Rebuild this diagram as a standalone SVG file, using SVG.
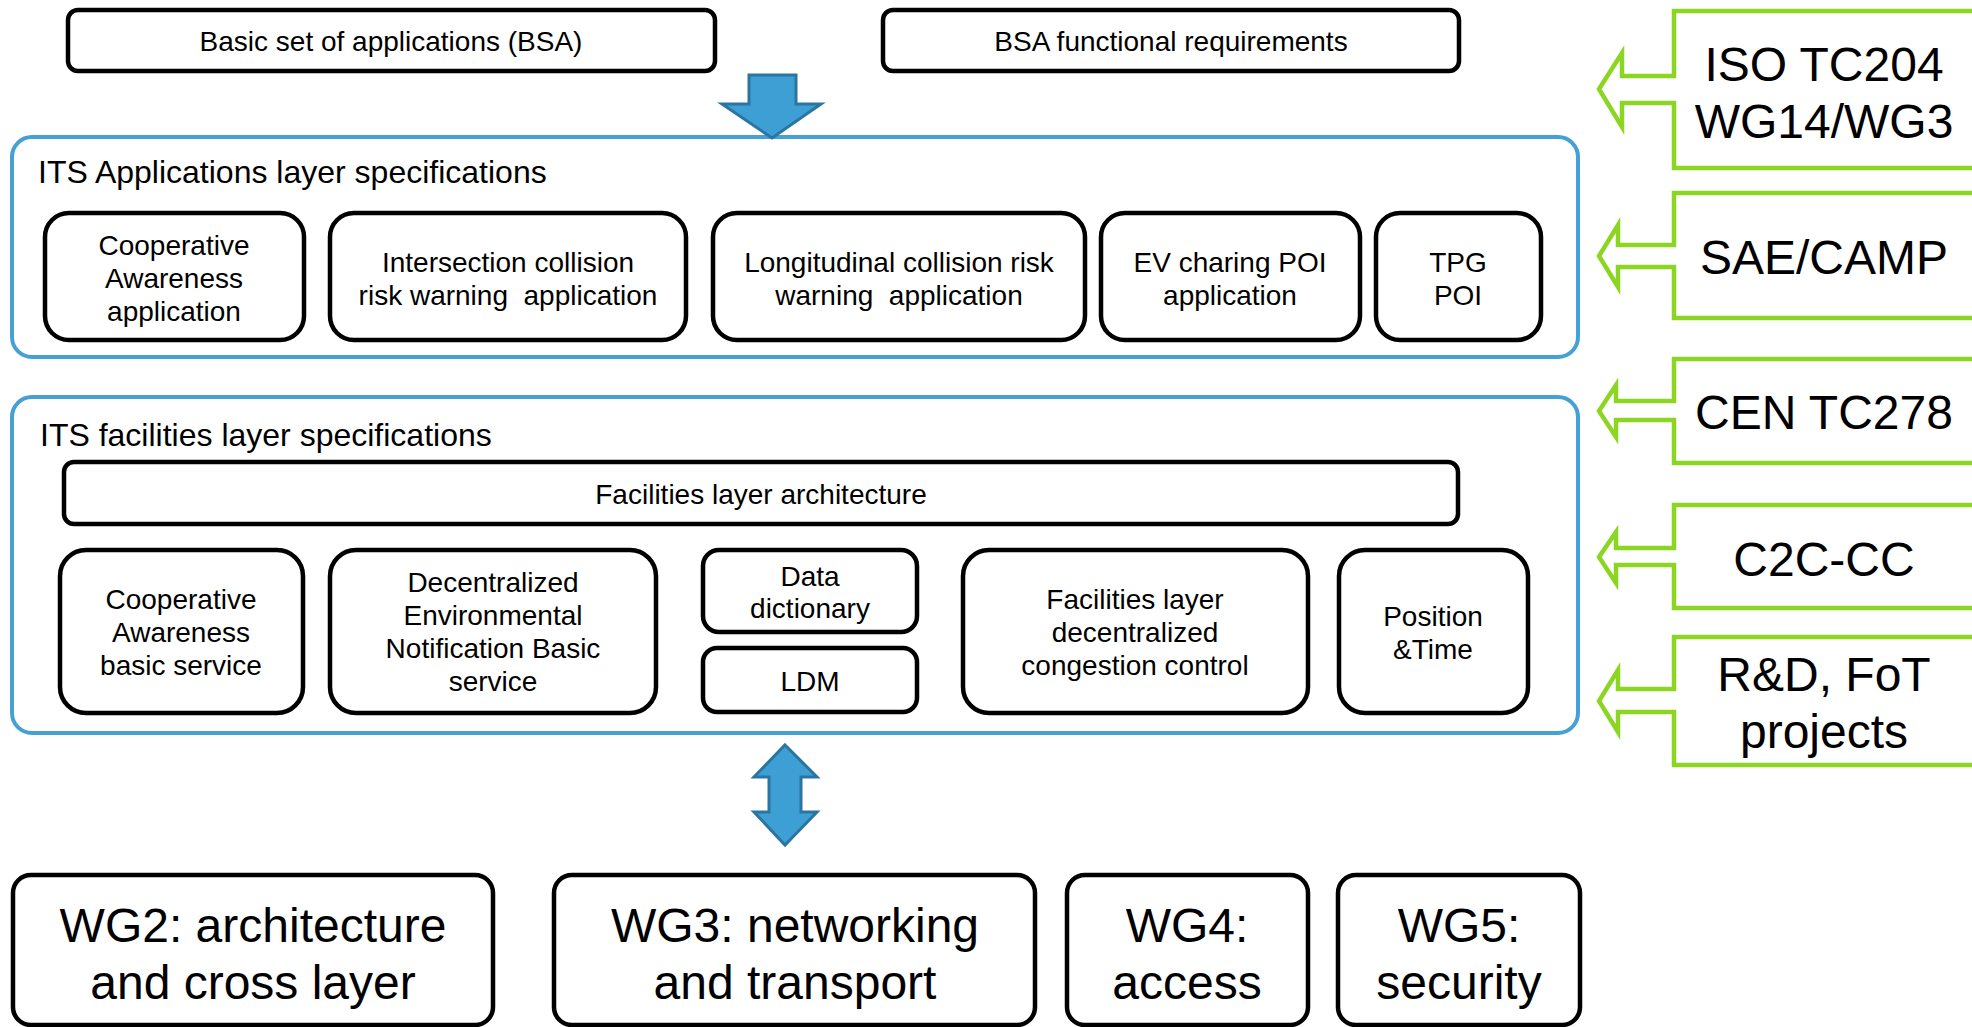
<svg xmlns="http://www.w3.org/2000/svg" width="1972" height="1027" viewBox="0 0 1972 1027">
  <style>
    text { font-family: "Liberation Sans", Arial, sans-serif; fill: #000; }
    .t28 { font-size: 28px; text-anchor: middle; }
    .t32 { font-size: 32px; }
    .t48 { font-size: 48px; text-anchor: middle; }
    .box { fill: #fff; stroke: #000; stroke-width: 4.5; }
    .layer { fill: #fff; stroke: #45a1d4; stroke-width: 4; }
    .src { fill: #fff; stroke: #8cd623; stroke-width: 4.5; }
    .flow { fill: #3d9fd3; stroke: #2b76a1; stroke-width: 3; stroke-linejoin: miter; }
  </style>

  <rect width="1972" height="1027" fill="#fff"/>

  <!-- Top inputs -->
  <g id="bsa">
    <rect class="box" x="68" y="10" width="647" height="61" rx="10"/>
    <text class="t28" x="391" y="51">Basic set of applications (BSA)</text>
  </g>
  <g id="bsa-req">
    <rect class="box" x="883" y="10" width="576" height="61" rx="10"/>
    <text class="t28" x="1171" y="51">BSA functional requirements</text>
  </g>

  <!-- Applications layer -->
  <g id="apps-layer">
    <rect class="layer" x="12" y="137" width="1566" height="220" rx="20"/>
    <text class="t32" x="38" y="183">ITS Applications layer specifications</text>
  </g>
  <g id="app-ca">
    <rect class="box" x="45" y="213" width="259" height="127" rx="24"/>
    <text class="t28" x="174" y="255">Cooperative</text>
    <text class="t28" x="174" y="288">Awareness</text>
    <text class="t28" x="174" y="321">application</text>
  </g>
  <g id="app-icrw">
    <rect class="box" x="330" y="213" width="356" height="127" rx="24"/>
    <text class="t28" x="508" y="272">Intersection collision</text>
    <text class="t28" x="508" y="305" xml:space="preserve">risk warning  application</text>
  </g>
  <g id="app-lcrw">
    <rect class="box" x="713" y="213" width="372" height="127" rx="24"/>
    <text class="t28" x="899" y="272">Longitudinal collision risk</text>
    <text class="t28" x="899" y="305" xml:space="preserve">warning  application</text>
  </g>
  <g id="app-ev">
    <rect class="box" x="1101" y="213" width="259" height="127" rx="24"/>
    <text class="t28" x="1230" y="272">EV charing POI</text>
    <text class="t28" x="1230" y="305">application</text>
  </g>
  <g id="app-tpg">
    <rect class="box" x="1376" y="213" width="165" height="127" rx="24"/>
    <text class="t28" x="1458" y="272">TPG</text>
    <text class="t28" x="1458" y="305">POI</text>
  </g>

  <!-- Facilities layer -->
  <g id="fac-layer">
    <rect class="layer" x="12" y="397" width="1566" height="336" rx="20"/>
    <text class="t32" x="40" y="446">ITS facilities layer specifications</text>
  </g>
  <g id="fac-arch">
    <rect class="box" x="64" y="462" width="1394" height="62" rx="10"/>
    <text class="t28" x="761" y="504">Facilities layer architecture</text>
  </g>
  <g id="fac-ca">
    <rect class="box" x="60" y="550" width="243" height="163" rx="26"/>
    <text class="t28" x="181" y="609">Cooperative</text>
    <text class="t28" x="181" y="642">Awareness</text>
    <text class="t28" x="181" y="675">basic service</text>
  </g>
  <g id="fac-den">
    <rect class="box" x="330" y="550" width="326" height="163" rx="26"/>
    <text class="t28" x="493" y="592">Decentralized</text>
    <text class="t28" x="493" y="625">Environmental</text>
    <text class="t28" x="493" y="658">Notification Basic</text>
    <text class="t28" x="493" y="691">service</text>
  </g>
  <g id="fac-dd">
    <rect class="box" x="703" y="550" width="214" height="82" rx="16"/>
    <text class="t28" x="810" y="586">Data</text>
    <text class="t28" x="810" y="618">dictionary</text>
  </g>
  <g id="fac-ldm">
    <rect class="box" x="703" y="648" width="214" height="64" rx="14"/>
    <text class="t28" x="810" y="691">LDM</text>
  </g>
  <g id="fac-dcc">
    <rect class="box" x="963" y="550" width="345" height="163" rx="26"/>
    <text class="t28" x="1135" y="609">Facilities layer</text>
    <text class="t28" x="1135" y="642">decentralized</text>
    <text class="t28" x="1135" y="675">congestion control</text>
  </g>
  <g id="fac-pt">
    <rect class="box" x="1339" y="550" width="189" height="163" rx="26"/>
    <text class="t28" x="1433" y="626">Position</text>
    <text class="t28" x="1433" y="659">&amp;Time</text>
  </g>

  <!-- Working groups -->
  <g id="wg2">
    <rect class="box" x="13" y="875" width="480" height="150" rx="18"/>
    <text class="t48" x="253" y="942">WG2: architecture</text>
    <text class="t48" x="253" y="999">and cross layer</text>
  </g>
  <g id="wg3">
    <rect class="box" x="554" y="875" width="481" height="150" rx="18"/>
    <text class="t48" x="795" y="942">WG3: networking</text>
    <text class="t48" x="795" y="999">and transport</text>
  </g>
  <g id="wg4">
    <rect class="box" x="1067" y="875" width="241" height="150" rx="18"/>
    <text class="t48" x="1187" y="942">WG4:</text>
    <text class="t48" x="1187" y="999">access</text>
  </g>
  <g id="wg5">
    <rect class="box" x="1338" y="875" width="242" height="150" rx="18"/>
    <text class="t48" x="1459" y="942">WG5:</text>
    <text class="t48" x="1459" y="999">security</text>
  </g>

  <!-- Contributing bodies (callout boxes with hollow arrows) -->
  <g id="src-iso">
    <path class="src" d="M2000,11 H1674 V76 H1622 V53 L1599,89 L1622,127 V103 H1674 V168 H2000"/>
    <text class="t48" x="1824" y="81">ISO TC204</text>
    <text class="t48" x="1824" y="138">WG14/WG3</text>
  </g>
  <g id="src-sae">
    <path class="src" d="M2000,193 H1674 V245 H1618 V225 L1599,256 L1618,287 V267 H1674 V318 H2000"/>
    <text class="t48" x="1824" y="274">SAE/CAMP</text>
  </g>
  <g id="src-cen">
    <path class="src" d="M2000,359 H1674 V401 H1616 V385 L1599,411 L1616,437 V420 H1674 V463 H2000"/>
    <text class="t48" x="1824" y="429">CEN TC278</text>
  </g>
  <g id="src-c2c">
    <path class="src" d="M2000,505 H1674 V548 H1616 V532 L1599,557 L1616,583 V565 H1674 V608 H2000"/>
    <text class="t48" x="1824" y="576">C2C-CC</text>
  </g>
  <g id="src-rd">
    <path class="src" d="M2000,637 H1674 V689 H1618 V670 L1599,701 L1618,732 V712 H1674 V765 H2000"/>
    <text class="t48" x="1824" y="691">R&amp;D, FoT</text>
    <text class="t48" x="1824" y="748">projects</text>
  </g>

  <!-- Connectors -->
  <g id="connectors">
    <polygon class="flow" points="749,75 796,75 796,104 821,104 772,138 722,104 749,104"/>
    <polygon class="flow" points="785,745 817,777 801,777 801,812 817,812 785,845 754,812 769,812 769,777 754,777"/>
  </g>
</svg>
